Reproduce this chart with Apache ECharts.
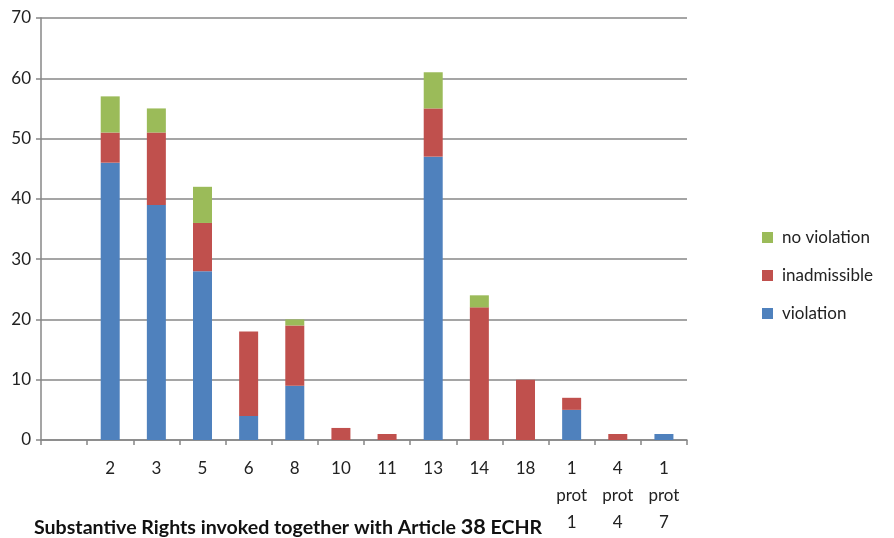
<!DOCTYPE html>
<html>
<head>
<meta charset="utf-8">
<script src="https://cdn.jsdelivr.net/npm/echarts@6/dist/echarts.min.js"></script>
<style>
  html, body { margin: 0; padding: 0; background: #fff; }
  #chart { width: 894px; height: 538px; }
</style>
</head>
<body>
<div id="chart"></div>
<script>
// Article numbers (first slot left empty, as on the original axis)
const categories = ['', '2', '3', '5', '6', '8', '10', '11', '13', '14', '18', '1\nprot\n1', '4\nprot\n4', '1\nprot\n7'];

// Case counts per outcome
const violation    = [0, 46, 39, 28, 4, 9, 0, 0, 47, 0, 0, 5, 0, 1];
const inadmissible = [0, 5, 12, 8, 14, 10, 2, 1, 8, 22, 10, 2, 1, 0];
const noViolation  = [0, 6, 4, 6, 0, 1, 0, 0, 6, 2, 0, 0, 0, 0];

const yTicks = { min: 0, max: 70, interval: 10 };

const FONT = 'Lato, "Open Sans", sans-serif';
const GRAY = '#878787';

const chart = echarts.init(document.getElementById('chart'));

function barSeries(name, data, color) {
  return {
    name: name,
    type: 'bar',
    stack: 'total',
    barWidth: 19,
    data: data,
    itemStyle: { color: color },
    emphasis: { disabled: true }
  };
}

chart.setOption({
  animation: false,
  textStyle: { fontFamily: FONT },
  grid: { left: 41, right: 207, top: 18, bottom: 98, containLabel: false },
  legend: {
    orient: 'vertical',
    left: 757,
    top: 224,
    itemWidth: 11,
    itemHeight: 11,
    itemGap: 21,
    icon: 'rect',
    data: ['no violation', 'inadmissible', 'violation'],
    textStyle: { fontFamily: FONT, fontSize: 17, color: '#222', padding: [0, 0, 0, 4] }
  },
  xAxis: {
    type: 'category',
    data: categories,
    axisLine: { lineStyle: { color: GRAY, width: 1.5 } },
    axisTick: { show: true, length: 5, alignWithLabel: false, lineStyle: { color: GRAY, width: 1.5 } },
    axisLabel: {
      interval: 0,
      color: '#222',
      fontFamily: FONT,
      fontSize: 17,
      lineHeight: 27,
      margin: 15,
      verticalAlign: 'top'
    },
    splitLine: { show: false }
  },
  yAxis: {
    type: 'value',
    min: yTicks.min,
    max: yTicks.max,
    interval: yTicks.interval,
    axisLine: { show: true, lineStyle: { color: GRAY, width: 1.5 } },
    axisTick: { show: true, length: 5, lineStyle: { color: GRAY, width: 1.5 } },
    axisLabel: { color: '#222', fontFamily: FONT, fontSize: 17, margin: 10 },
    splitLine: { show: true, lineStyle: { color: GRAY, width: 1.5 } }
  },
  graphic: [{
    type: 'text',
    left: 34,
    top: 516,
    style: {
      text: '{a|Substantive Rights invoked together with Article }{b|38}{a| ECHR}',
      rich: {
        a: { fontFamily: FONT, fontWeight: 'bold', fontSize: 19.6, fill: '#111', verticalAlign: 'bottom' },
        b: { fontFamily: FONT, fontWeight: 'bold', fontSize: 21.6, fill: '#111', verticalAlign: 'bottom' }
      }
    }
  }],
  series: [
    barSeries('violation', violation, '#4F81BD'),
    barSeries('inadmissible', inadmissible, '#C0504D'),
    barSeries('no violation', noViolation, '#9BBB59')
  ]
});
</script>
</body>
</html>
